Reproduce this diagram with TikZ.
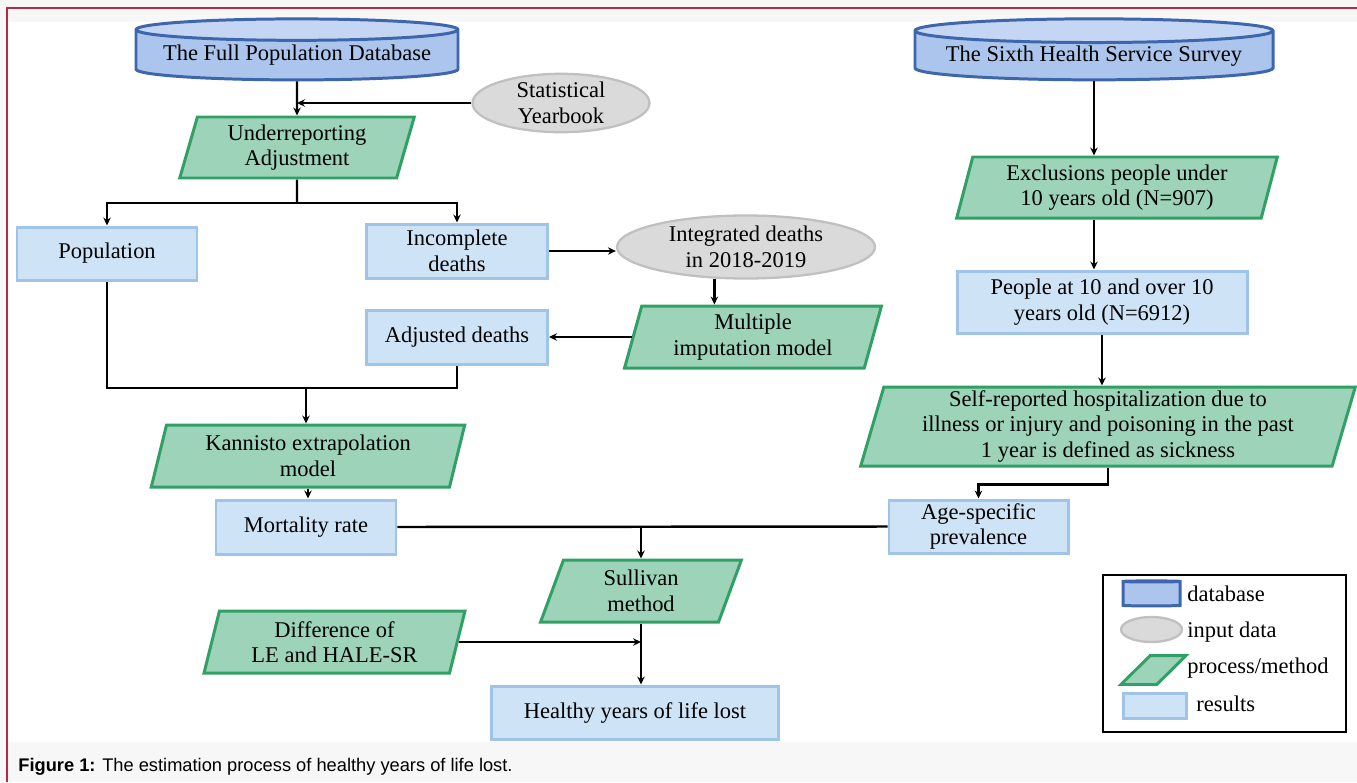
\documentclass[tikz,border=0pt]{standalone}
\usepackage{fontspec}
\setmainfont{Liberation Serif}
\newfontfamily\capfont{Liberation Sans}
\usetikzlibrary{shapes.geometric, arrows.meta, calc}
\definecolor{resfill}{RGB}{206,227,246}
\definecolor{resdraw}{RGB}{160,196,232}
\definecolor{procfill}{RGB}{157,211,185}
\definecolor{procdraw}{RGB}{48,160,102}
\definecolor{dbfill}{RGB}{172,197,237}
\definecolor{dbtop}{RGB}{196,214,244}
\definecolor{dbdraw}{RGB}{62,102,172}
\definecolor{infill}{RGB}{218,218,218}
\definecolor{indraw}{RGB}{192,192,192}
\definecolor{framered}{RGB}{182,42,72}
\definecolor{pagebg}{RGB}{247,247,248}
\newcommand\pxl{0.02cm}

\begin{document}
\begin{tikzpicture}[x=0.02cm, y=-0.02cm,
                font=\fontsize{12.8}{14.5}\selectfont,
                boxsize/.style 2 args={minimum width=#1*\pxl, minimum height=#2*\pxl},
                line/.style={line width=1.4pt},
                conn/.style={line width=1.4pt, -{Stealth[length=4.5pt, width=4.2pt]}},
                result/.style={draw=resdraw, fill=resfill, line width=1.7pt, inner sep=0pt, align=center},
                process/.style={trapezium, trapezium left angle=75, trapezium right angle=105,
                    trapezium stretches=true, draw=procdraw, fill=procfill, line width=1.7pt,
                    inner sep=0pt, align=center},
                input/.style={ellipse, draw=indraw, fill=infill, line width=1.3pt, inner sep=0pt, align=center},
                dbase/.style={cylinder, shape border rotate=90, aspect=0.08, draw=dbdraw, line width=1.7pt,
                    cylinder uses custom fill, cylinder body fill=dbfill, cylinder end fill=dbtop,
                    inner sep=0pt, align=center},
                legtext/.style={anchor=west, inner sep=0pt}]
                \useasboundingbox (0,0) rectangle (1357,782);
                \fill[pagebg] (0,0) rectangle (1357,782);
                \fill[white] (8,22) rectangle (1357,742);
                \draw[framered, line width=1.2pt] (7,782) -- (7,8) -- (1357,8);

                \node[dbase, boxsize={322}{61}] (fulldb) at (297,55.5) {The Full Population Database};
                \node[dbase, boxsize={358}{61}] (survey) at (1094,56) {The Sixth Health Service Survey};
                \node[input, boxsize={177}{50}] (yearbook) at (561,103) {Statistical\\Yearbook};
                \node[process, boxsize={236}{61}] (underrep) at (297,147.5) {Underreporting\\Adjustment};
                \node[result, boxsize={180}{53}] (popul) at (107,253.5) {Population};
                \node[result, boxsize={181}{54}] (incompl) at (457,251) {Incomplete\\deaths};
                \node[input, boxsize={258}{63}] (integr) at (746,247) {Integrated deaths\\in 2018-2019};
                \node[process, boxsize={257}{62}] (multimp) at (753,337) {Multiple\\imputation model};
                \node[result, boxsize={181}{54}] (adjdeath) at (457,337) {Adjusted deaths};
                \node[process, boxsize={314}{62}] (kannisto) at (308,456) {Kannisto extrapolation\\model};
                \node[result, boxsize={180}{54}] (mortal) at (306,527) {Mortality rate};
                \node[process, boxsize={202}{62}] (sullivan) at (641,591) {Sullivan\\method};
                \node[process, boxsize={261}{62}] (diffle) at (334.5,642) {Difference of\\LE and HALE-SR};
                \node[result, boxsize={287}{53}] (hyll) at (635,712.5) {Healthy years of life lost};
                \node[process, boxsize={321}{61}] (exclus) at (1117,187.5) {Exclusions people under\\10 years old (N=907)};
                \node[result, boxsize={290}{62}] (people) at (1102,302) {People at 10 and over 10\\years old (N=6912)};
                \node[process, boxsize={496}{79}] (selfrep) at (1108,426.5) {Self-reported hospitalization due to\\illness or injury and poisoning in the past\\1 year is defined as sickness};
                \node[result, boxsize={179}{53}] (agespec) at (978.5,526.5) {Age-specific\\prevalence};

                \coordinate (split) at (297,203);
                \coordinate (merge) at (306,388);
                \draw[conn] (fulldb.south) -- (underrep.north);
                \draw[conn] (yearbook.west) -- (yearbook.west -| fulldb.south);
                \draw[line] (underrep.south) -- (split);
                \draw[conn] (split) -| (popul.north);
                \draw[conn] (split) -| (incompl.north);
                \draw[conn] (incompl.east) -- (incompl.east -| integr.west);
                \draw[conn] (integr.225) -- (integr.225 |- multimp.north);
                \draw[conn] (multimp.west) -- (multimp.west -| adjdeath.east);
                \draw[line] (popul.south) |- (merge) -| (adjdeath.south);
                \draw[conn] (merge) -- (merge |- kannisto.north);
                \draw[conn] (kannisto.south) -- (kannisto.south |- mortal.north);
                \draw[line] (mortal.east) -- (agespec.west);
                \draw[conn] (mortal.east -| sullivan.north) -- (sullivan.north);
                \draw[conn] (sullivan.south) -- (hyll.north -| sullivan.south);
                \draw[conn] (diffle.east) -- (diffle.east -| sullivan.south);
                \draw[conn] (survey.south) -- (exclus.north -| survey.south);
                \draw[conn] (exclus.south -| survey.south) -- (people.north -| survey.south);
                \draw[conn] (people.south) -- (selfrep.north -| people.south);
                \draw[conn] (selfrep.south) -- ++(0,17) -| (agespec.north);

                \node[draw, line width=0.8pt, boxsize={243}{157}] (legend) at (1224.5,653.5) {};
                \node[dbase, boxsize={57}{25}, aspect=0.3, inner sep=1pt] (legdb) at (1151.5,594.5) {};
                \node[input, boxsize={61}{25}, inner sep=1pt] (legin) at (1151.5,629.5) {};
                \node[process, boxsize={65}{24}, inner sep=1pt, trapezium left angle=62, trapezium right angle=118] (legproc) at (1153.5,670) {\strut};
                \node[result, boxsize={63}{25}, inner sep=1pt] (legres) at (1154.5,705.5) {};
                \node[legtext] (legdbtext) at (1187,594) {database};
                \node[legtext] (legintext) at (1187,632) {input data};
                \node[legtext] (legproctext) at (1187,668) {process/method};
                \node[legtext] (legrestext) at (1196,704) {results};

                \node[anchor=base west, inner sep=0pt, font=\capfont\fontsize{10.4}{12}\selectfont] (caption) at (18,771) {\textbf{Figure 1:} The estimation process of healthy years of life lost.};
            \end{tikzpicture}
\end{document}
